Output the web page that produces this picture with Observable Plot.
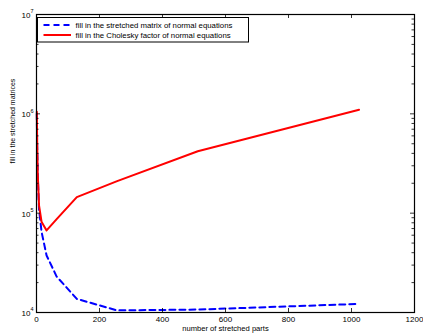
<!DOCTYPE html>
<html>
<head>
<meta charset="utf-8">
<script src="https://cdn.jsdelivr.net/npm/d3@7"></script>
<script src="https://cdn.jsdelivr.net/npm/@observablehq/plot@0.6"></script>
<style>
  html, body { margin: 0; padding: 0; background: #fff; }
  svg { display: block; }
</style>
</head>
<body>
<div id="chart"></div>
<script>
// Data
const parts = [1, 2, 4, 8, 16, 32, 64, 128, 256, 512, 1024];
const fillStretched = [1.0e6, 5.0e5, 2.4e5, 1.1e5, 6.5e4, 3.75e4, 2.3e4, 1.37e4, 1.05e4, 1.07e4, 1.22e4];
const fillCholesky = [1.05e6, 5.5e5, 2.5e5, 1.2e5, 8.2e4, 6.7e4, 8.7e4, 1.45e5, 2.1e5, 4.2e5, 1.1e6];
const seriesNames = ["fill in the stretched matrix of normal equations", "fill in the Cholesky factor of normal equations"];
const xTicks = [0, 200, 400, 600, 800, 1000, 1200];
const yTicks = [1e4, 1e5, 1e6, 1e7];
const yExponents = ["4", "5", "6", "7"];
const yMinor = [1e4, 1e5, 1e6].flatMap(b => [2, 3, 4, 5, 6, 7, 8, 9].map(m => m * b));
const xLabel = "number of stretched parts";
const yLabel = "fill in the stretched matrices";

const blueRows = parts.map((p, i) => ({x: p, y: fillStretched[i]}));
const redRows = parts.map((p, i) => ({x: p, y: fillCholesky[i]}));

const W = 423, H = 333, mL = 36, mR = 9, mT = 14, mB = 21;
const pw = W - mL - mR, ph = H - mT - mB;
const font = "'Liberation Sans', Arial, Helvetica, sans-serif";

const plot = Plot.plot({
  width: W, height: H,
  marginLeft: mL, marginRight: mR, marginTop: mT, marginBottom: mB,
  style: {fontFamily: font, fontSize: "8px", background: "#fff", color: "#000"},
  x: {domain: [0, 1200]},
  y: {type: "log", domain: [1e4, 1e7]},
  marks: [
    Plot.line(blueRows, {x: "x", y: "y", stroke: "#0000ff", strokeWidth: 2, strokeDasharray: "6,4"}),
    Plot.line(redRows, {x: "x", y: "y", stroke: "#ff0000", strokeWidth: 2}),
    Plot.frame({stroke: "#000", strokeWidth: 1.2}),
    // inward ticks
    Plot.tickX(xTicks, {x: d => d, insetTop: ph - 4, stroke: "#000", strokeWidth: 0.8}),
    Plot.tickX(xTicks, {x: d => d, insetBottom: ph - 4, stroke: "#000", strokeWidth: 0.8}),
    Plot.tickY(yTicks, {y: d => d, insetRight: pw - 4, stroke: "#000", strokeWidth: 0.8}),
    Plot.tickY(yTicks, {y: d => d, insetLeft: pw - 4, stroke: "#000", strokeWidth: 0.8}),
    Plot.tickY(yMinor, {y: d => d, insetRight: pw - 2.5, stroke: "#000", strokeWidth: 0.8}),
    Plot.tickY(yMinor, {y: d => d, insetLeft: pw - 2.5, stroke: "#000", strokeWidth: 0.8}),
    Plot.axisX({ticks: xTicks, tickSize: 0, tickPadding: 4, fontSize: 8, tickFormat: d => String(d), label: null}),
    Plot.axisY({ticks: [], label: null}),
    // y tick labels 10^k
    Plot.text(yTicks, {x: 0, y: d => d, text: () => "10", textAnchor: "end", dx: -6, dy: 1, fontSize: 8, clip: false}),
    Plot.text(yTicks, {x: 0, y: d => d, text: (d, i) => yExponents[i], textAnchor: "start", dx: -6, dy: -3, fontSize: 5.5, clip: false}),
    // axis titles
    Plot.text([xLabel], {frameAnchor: "bottom", dy: 18.5, fontSize: 7.6, text: d => d}),
    Plot.text([yLabel], {frameAnchor: "left", dx: -24, rotate: -90, fontSize: 7, text: d => d})
  ]
});

document.getElementById("chart").appendChild(plot);

// Legend box in upper-left
const svg = d3.select(plot);
const lg = svg.append("g").attr("text-anchor", "start");
lg.append("rect").attr("x", 37.5).attr("y", 17.5).attr("width", 211).attr("height", 24.5)
  .attr("fill", "#fff").attr("stroke", "#000").attr("stroke-width", 1);
const items = [
  {name: seriesNames[0], color: "#0000ff", dash: "6,4"},
  {name: seriesNames[1], color: "#ff0000", dash: "none"}
];
items.forEach((it, i) => {
  const yy = 25 + i * 10;
  lg.append("line").attr("x1", 43.5).attr("x2", 71).attr("y1", yy).attr("y2", yy)
    .attr("stroke", it.color).attr("stroke-width", 2).attr("stroke-dasharray", it.dash);
  lg.append("text").attr("x", 75.5).attr("y", yy + 2.7).attr("font-size", "7.8px")
    .attr("text-anchor", "start")
    .attr("font-family", font).attr("fill", "#000").text(it.name);
});
</script>
</body>
</html>
